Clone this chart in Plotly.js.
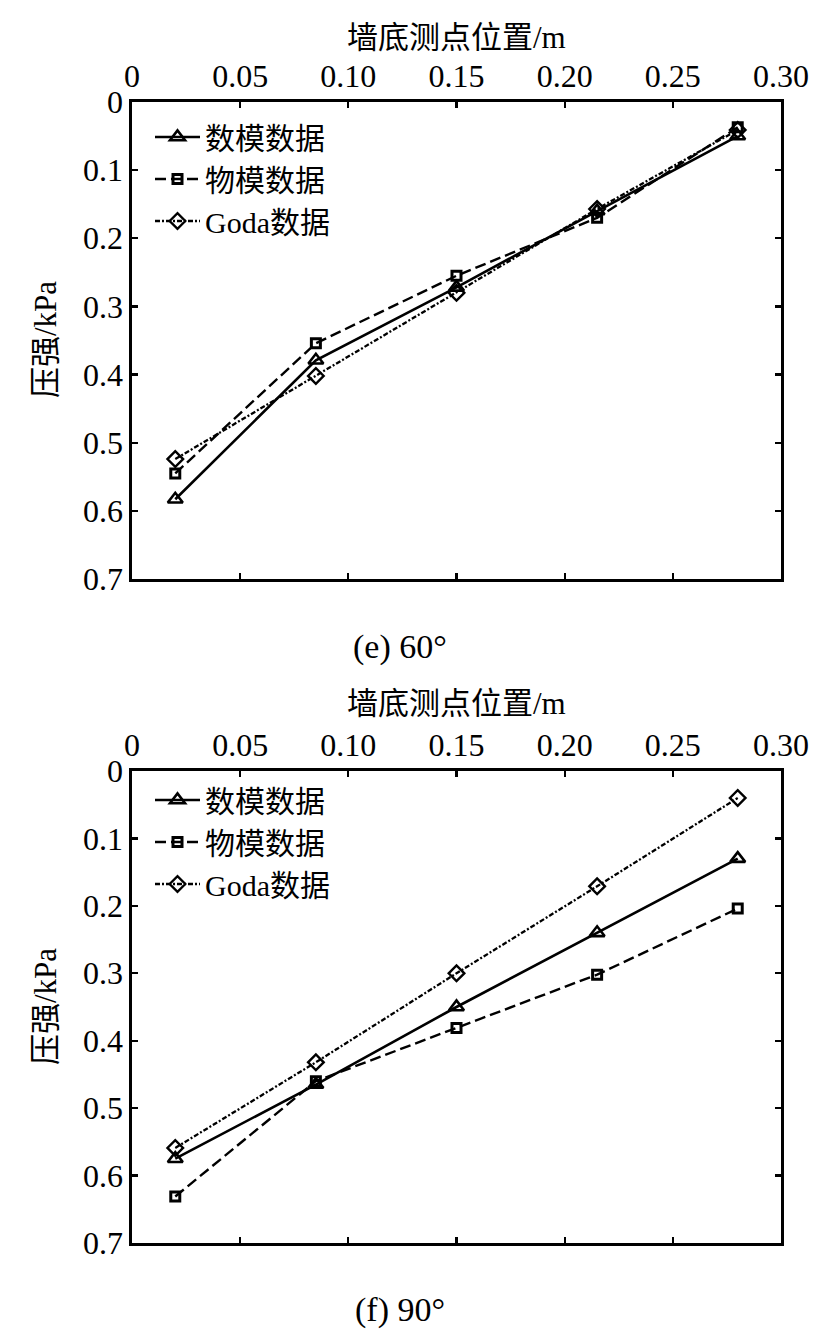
<!DOCTYPE html>
<html>
<head>
<meta charset="utf-8">
<script src="https://cdn.plot.ly/plotly-3.0.1.min.js"></script>
<style>html,body{margin:0;padding:0;background:#fff;}#chart{width:820px;height:1341px;}</style>
</head>
<body>
<div id="chart"></div>
<script>
// Data
const xPos = [0.02, 0.085, 0.15, 0.215, 0.28];
const seriesNames = ['数模数据', '物模数据', 'Goda数据'];
// (e) 60°
const e_numerical = [0.583, 0.379, 0.272, 0.160, 0.050];
const e_physical  = [0.545, 0.354, 0.255, 0.170, 0.037];
const e_goda      = [0.524, 0.402, 0.280, 0.157, 0.041];
// (f) 90°
const f_numerical = [0.575, 0.465, 0.350, 0.240, 0.130];
const f_physical  = [0.631, 0.460, 0.381, 0.302, 0.204];
const f_goda      = [0.559, 0.432, 0.300, 0.171, 0.040];
const xTickVals = [0, 0.05, 0.10, 0.15, 0.20, 0.25, 0.30];
const xTickText = ['0', '0.05', '0.10', '0.15', '0.20', '0.25', '0.30'];
const yTickVals = [0, 0.1, 0.2, 0.3, 0.4, 0.5, 0.6, 0.7];
const yTickText = ['0', '0.1', '0.2', '0.3', '0.4', '0.5', '0.6', '0.7'];
const xTitle = '墙底测点位置/m';
const yTitle = '压强/kPa';
const captions = ['(e) 60°', '(f) 90°'];

const FONT = '"Liberation Serif", "Times New Roman", "Noto Sans CJK SC", serif';
const styles = [
  {line: {color: '#000', width: 2.6, dash: 'solid'}, marker: {symbol: 'triangle-up-open', size: 13, color: '#000', line: {width: 2.6, color: '#000'}}},
  {line: {color: '#000', width: 2.4, dash: '11px,5px'}, marker: {symbol: 'square-open', size: 9, color: '#000', line: {width: 3, color: '#000'}}},
  {line: {color: '#000', width: 2.3, dash: '5px,2px,2px,2px'}, marker: {symbol: 'diamond-open', size: 12, color: '#000', line: {width: 2.4, color: '#000'}}}
];

function mk(ys, i, xa, ya, leg) {
  return {
    x: xPos, y: ys, type: 'scatter', mode: 'lines+markers', name: seriesNames[i],
    xaxis: xa, yaxis: ya, legend: leg,
    line: styles[i].line, marker: styles[i].marker
  };
}

const data = [
  mk(e_numerical, 0, 'x', 'y', 'legend'),
  mk(e_physical, 1, 'x', 'y', 'legend'),
  mk(e_goda, 2, 'x', 'y', 'legend'),
  mk(f_numerical, 0, 'x2', 'y2', 'legend2'),
  mk(f_physical, 1, 'x2', 'y2', 'legend2'),
  mk(f_goda, 2, 'x2', 'y2', 'legend2')
];

const W = 820, H = 1341;
const xDom = [132 / W, 781 / W];
const topDom = [1 - 579 / H, 1 - 102 / H];
const botDom = [1 - 1243 / H, 1 - 771 / H];
const TICKSIZE = 32;

function xax(anchor) {
  return {
    domain: xDom, anchor: anchor, side: 'top', range: [0, 0.30],
    tickvals: xTickVals, ticktext: xTickText,
    showline: true, linecolor: '#000', linewidth: 2.6, mirror: 'ticks',
    ticks: 'inside', ticklen: 6, tickwidth: 2.2, tickcolor: '#000',
    showgrid: false, zeroline: false,
    tickfont: {family: FONT, size: TICKSIZE, color: '#000'}
  };
}
function yax(dom, anchor) {
  return {
    domain: dom, anchor: anchor, range: [0.7, 0],
    tickvals: yTickVals, ticktext: yTickText,
    showline: true, linecolor: '#000', linewidth: 2.6, mirror: 'ticks',
    ticks: 'inside', ticklen: 6, tickwidth: 2.2, tickcolor: '#000',
    showgrid: false, zeroline: false,
    tickfont: {family: FONT, size: TICKSIZE, color: '#000'}
  };
}

const legBase = {
  bgcolor: 'rgba(0,0,0,0)', borderwidth: 0,
  font: {family: FONT, size: 30, color: '#000'},
  xanchor: 'left', yanchor: 'top', tracegroupgap: 0, itemwidth: 45
};

const annFont = {family: FONT, size: 31, color: '#000'};
const layout = {
  width: W, height: H,
  margin: {l: 0, r: 0, t: 0, b: 0},
  paper_bgcolor: '#fff', plot_bgcolor: '#fff',
  showlegend: true,
  xaxis: xax('y'), yaxis: yax(topDom, 'x'),
  xaxis2: xax('y2'), yaxis2: yax(botDom, 'x2'),
  legend: Object.assign({}, legBase, {x: 150 / W, y: 1 - 111 / H}),
  legend2: Object.assign({}, legBase, {x: 150 / W, y: 1 - 774 / H}),
  annotations: [
    {text: xTitle, xref: 'paper', yref: 'paper', x: 456 / W, y: 1 - 37 / H, showarrow: false, font: annFont, xanchor: 'center', yanchor: 'middle'},
    {text: xTitle, xref: 'paper', yref: 'paper', x: 456 / W, y: 1 - 703 / H, showarrow: false, font: annFont, xanchor: 'center', yanchor: 'middle'},
    {text: yTitle, xref: 'paper', yref: 'paper', x: 45 / W, y: 1 - 340 / H, showarrow: false, font: annFont, textangle: -90, xanchor: 'center', yanchor: 'middle'},
    {text: yTitle, xref: 'paper', yref: 'paper', x: 45 / W, y: 1 - 1007 / H, showarrow: false, font: annFont, textangle: -90, xanchor: 'center', yanchor: 'middle'},
    {text: captions[0], xref: 'paper', yref: 'paper', x: 400 / W, y: 1 - 647 / H, showarrow: false, font: {family: FONT, size: 34, color: '#000'}, xanchor: 'center', yanchor: 'middle'},
    {text: captions[1], xref: 'paper', yref: 'paper', x: 400 / W, y: 1 - 1310 / H, showarrow: false, font: {family: FONT, size: 34, color: '#000'}, xanchor: 'center', yanchor: 'middle'}
  ]
};

Plotly.newPlot('chart', data, layout, {staticPlot: true, displayModeBar: false});
</script>
</body>
</html>
